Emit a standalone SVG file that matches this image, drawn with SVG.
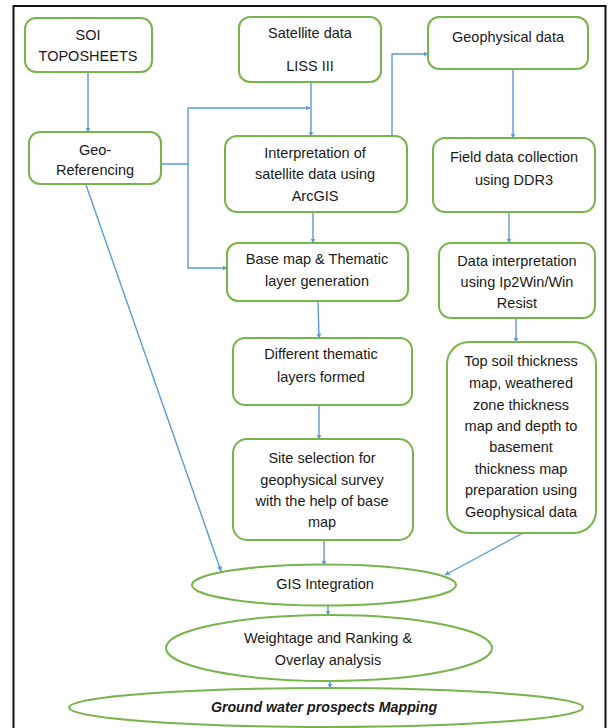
<svg xmlns="http://www.w3.org/2000/svg" width="611" height="728" viewBox="0 0 611 728">
<defs>
<style>
.box{fill:#fff;stroke:#77b54a;stroke-width:2}
.t{font-family:"Liberation Sans",Arial,sans-serif;font-size:14.5px;fill:#1a1a1a;text-anchor:middle}
.bi{font-weight:bold;font-style:italic;font-size:14.2px}
.c{fill:none;stroke:#5b9bd5;stroke-width:1.4}
</style>
<marker id="ah" viewBox="0 0 10 10" refX="9" refY="5" markerWidth="5" markerHeight="5" orient="auto" markerUnits="userSpaceOnUse">
<path d="M0,0 L10,5 L0,10 z" fill="#5b9bd5"/>
</marker>
</defs>
<rect x="0" y="0" width="611" height="728" fill="#fff"/>
<rect x="13.5" y="6" width="592" height="740" fill="none" stroke="#111" stroke-width="2"/>

<g id="connectors">
<path class="c" d="M88,72 V132" marker-end="url(#ah)"/>
<path class="c" d="M311,82 V136" marker-end="url(#ah)"/>
<path class="c" d="M161,164 H188 V108 H310" marker-end="url(#ah)"/>
<path class="c" d="M188,164 V268 H227" marker-end="url(#ah)"/>
<path class="c" d="M392,136 V54 H428" marker-end="url(#ah)"/>
<path class="c" d="M513,69 V138" marker-end="url(#ah)"/>
<path class="c" d="M313,212 V243" marker-end="url(#ah)"/>
<path class="c" d="M509,212 V243" marker-end="url(#ah)"/>
<path class="c" d="M318,301 L319,338" marker-end="url(#ah)"/>
<path class="c" d="M516,318 V342" marker-end="url(#ah)"/>
<path class="c" d="M319,405 V439" marker-end="url(#ah)"/>
<path class="c" d="M86,185 L221,571" marker-end="url(#ah)"/>
<path class="c" d="M324,540 V565" marker-end="url(#ah)"/>
<path class="c" d="M523,533 L445,575" marker-end="url(#ah)"/>
<path class="c" d="M328,606 V615" marker-end="url(#ah)"/>
<path class="c" d="M330,681 V688" marker-end="url(#ah)"/>
</g>

<g id="soi">
<rect class="box" x="25" y="18" width="127" height="54" rx="11"/>
<text class="t" x="88" y="40">SOI</text>
<text class="t" x="88" y="61">TOPOSHEETS</text>
</g>
<g id="satellite">
<rect class="box" x="239" y="17" width="142" height="65" rx="11"/>
<text class="t" x="310" y="38">Satellite data</text>
<text class="t" x="310" y="71">LISS III</text>
</g>
<g id="geophysical">
<rect class="box" x="428" y="17" width="160" height="52" rx="11"/>
<text class="t" x="508" y="42">Geophysical data</text>
</g>
<g id="georef">
<rect class="box" x="29" y="132" width="132" height="52" rx="11"/>
<text class="t" x="95" y="155">Geo-</text>
<text class="t" x="95" y="175">Referencing</text>
</g>
<g id="interpretation">
<rect class="box" x="225" y="136" width="182" height="76" rx="12"/>
<text class="t" x="315" y="158">Interpretation of</text>
<text class="t" x="315" y="179">satellite data using</text>
<text class="t" x="315" y="201">ArcGIS</text>
</g>
<g id="field">
<rect class="box" x="433" y="138" width="162" height="74" rx="12"/>
<text class="t" x="514" y="162">Field data collection</text>
<text class="t" x="514" y="185">using DDR3</text>
</g>
<g id="basemap">
<rect class="box" x="227" y="243" width="181" height="58" rx="11"/>
<text class="t" x="317" y="264">Base map &amp; Thematic</text>
<text class="t" x="317" y="286">layer generation</text>
</g>
<g id="datainterp">
<rect class="box" x="439" y="243" width="156" height="75" rx="12"/>
<text class="t" x="517" y="266">Data interpretation</text>
<text class="t" x="517" y="287">using Ip2Win/Win</text>
<text class="t" x="517" y="308">Resist</text>
</g>
<g id="different">
<rect class="box" x="233" y="338" width="179" height="67" rx="12"/>
<text class="t" x="321" y="359">Different thematic</text>
<text class="t" x="321" y="382">layers formed</text>
</g>
<g id="site">
<rect class="box" x="233" y="439" width="180" height="101" rx="14"/>
<text class="t" x="322" y="463">Site selection for</text>
<text class="t" x="322" y="485">geophysical survey</text>
<text class="t" x="322" y="506">with the help of base</text>
<text class="t" x="322" y="527">map</text>
</g>
<g id="topsoil">
<rect class="box" x="447" y="342" width="149" height="191" rx="22"/>
<text class="t" x="521" y="366">Top soil thickness</text>
<text class="t" x="521" y="388">map, weathered</text>
<text class="t" x="521" y="410">zone thickness</text>
<text class="t" x="521" y="431">map and depth to</text>
<text class="t" x="521" y="452">basement</text>
<text class="t" x="521" y="474">thickness map</text>
<text class="t" x="521" y="495">preparation using</text>
<text class="t" x="521" y="517">Geophysical data</text>
</g>
<g id="gis">
<ellipse class="box" cx="324" cy="585" rx="132" ry="20.5"/>
<text class="t" x="325" y="589">GIS Integration</text>
</g>
<g id="weightage">
<ellipse class="box" cx="329" cy="648" rx="163" ry="33"/>
<text class="t" x="328" y="643">Weightage and Ranking &amp;</text>
<text class="t" x="328" y="665">Overlay analysis</text>
</g>
<g id="groundwater">
<ellipse class="box" cx="326" cy="707.5" rx="257" ry="19.5"/>
<text class="t bi" x="324" y="712">Ground water prospects Mapping</text>
</g>
</svg>
